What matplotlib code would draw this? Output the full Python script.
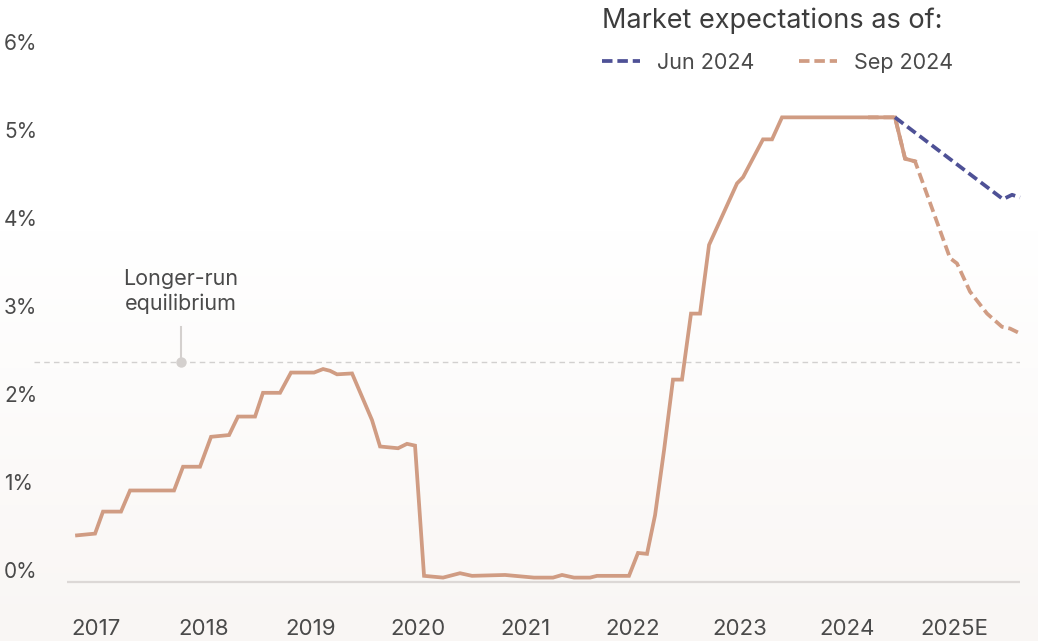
import numpy as np
import matplotlib
matplotlib.use("Agg")
import matplotlib.pyplot as plt
from matplotlib.lines import Line2D

plt.rcParams['font.family'] = ['Inter', 'DejaVu Sans']

# Effective fed funds rate (decimal years, %)
actual_t = [2016.823, 2016.991, 2017.065, 2017.233, 2017.317, 2017.727, 2017.811, 2017.969,
            2018.072, 2018.240, 2018.323, 2018.482, 2018.556, 2018.715, 2018.817, 2019.032,
            2019.116, 2019.181, 2019.246, 2019.386, 2019.572, 2019.647, 2019.815, 2019.898,
            2019.973, 2020.057, 2020.234, 2020.392, 2020.504, 2020.812, 2021.082, 2021.259,
            2021.343, 2021.455, 2021.604, 2021.669, 2021.967, 2022.051, 2022.135, 2022.210,
            2022.294, 2022.377, 2022.461, 2022.545, 2022.629, 2022.713, 2022.974, 2023.030,
            2023.216, 2023.300, 2023.393, 2024.446, 2024.540, 2024.633]
actual_v = [0.53, 0.55, 0.80, 0.80, 1.04, 1.04, 1.31, 1.31,
            1.65, 1.67, 1.88, 1.88, 2.15, 2.15, 2.38, 2.38,
            2.42, 2.40, 2.36, 2.37, 1.84, 1.54, 1.52, 1.57,
            1.55, 0.07, 0.05, 0.10, 0.07, 0.08, 0.05, 0.05,
            0.08, 0.05, 0.05, 0.07, 0.07, 0.33, 0.32, 0.76,
            1.50, 2.30, 2.30, 3.05, 3.05, 3.83, 4.53, 4.60,
            5.03, 5.03, 5.28, 5.28, 4.81, 4.78]

# market expectations
jun_t = [2024.446, 2024.987, 2025.453, 2025.537, 2025.611]
jun_v = [5.28, 4.78, 4.35, 4.40, 4.37]
sep_t = [2024.195, 2024.446, 2024.540, 2024.633, 2024.959, 2025.024, 2025.145,
         2025.304, 2025.443, 2025.518, 2025.602]
sep_v = [5.28, 5.28, 4.81, 4.78, 3.68, 3.62, 3.30, 3.05, 2.90, 2.88, 2.83]

longer_run = 2.5
years = [2017, 2018, 2019, 2020, 2021, 2022, 2023, 2024, 2025]
year_labels = ["2017", "2018", "2019", "2020", "2021", "2022", "2023", "2024", "2025E"]
y_ticks = [0, 1, 2, 3, 4, 5, 6]
y_labels = ["0%", "1%", "2%", "3%", "4%", "5%", "6%"]

ORANGE = "#d09c83"
BLUE = "#4e5196"
TEXT = "#4a4a4a"
GREY = "#d4d0ce"
DASH = (0, (2.8, 1.3))
LW = 2.7

W, H = 1038, 641
fig = plt.figure(figsize=(W / 100, H / 100), dpi=100)

# background gradient (white on top, warm grey at the bottom)
bg = fig.add_axes([0, 0, 1, 1], zorder=-10)
rows = np.arange(H)
frac = np.clip((rows - 230) / (H - 230), 0, 1)[:, None]
top = np.array([1.0, 1.0, 1.0])
bot = np.array([0xf9, 0xf6, 0xf4]) / 255
img = top + (bot - top) * frac[..., None]
img = np.repeat(img, 2, axis=1)
bg.imshow(img, aspect="auto", extent=[0, 1, 0, 1], origin="upper")
bg.axis("off")

# axes placed in pixels
left_px, right_px, bot_px, top_px = 34, 1020, 600, 30
ax = fig.add_axes([left_px / W, (H - bot_px) / H, (right_px - left_px) / W, (bot_px - top_px) / H])
ax.set_facecolor("none")
ax.set_xlim(2016.422, 2025.611)
ax.set_ylim(-0.2045, 6.2727)

# baseline and longer-run line
ax.hlines(0, 2016.73, 2025.611, color="#dcd8d6", lw=1.6, zorder=1)
ax.hlines(longer_run, 2016.422, 2025.611, color="#d2d0cf", lw=1.0,
          linestyles=(0, (4, 3)), zorder=1)

# series
ax.plot(actual_t, actual_v, color=ORANGE, lw=LW, solid_joinstyle="miter",
        clip_on=False, zorder=3)
ax.plot(sep_t, sep_v, color=ORANGE, lw=LW, ls=DASH, clip_on=False, zorder=4)
ax.plot(jun_t, jun_v, color=BLUE, lw=LW, ls=DASH, clip_on=False, zorder=4)

# longer-run annotation
ann_t = 2017.792
ax.plot([ann_t, ann_t], [longer_run, 2.90], color=GREY, lw=1.5, zorder=2)
ax.plot([ann_t], [longer_run], marker="o", ms=7.5, color=GREY, mec="none", zorder=2)
ax.text(ann_t, 3.30, "Longer-run\nequilibrium", ha="center", va="center",
        fontsize=15.5, color=TEXT, linespacing=1.3)

# ticks
ax.set_xticks(years)
ax.set_xticklabels(year_labels, fontsize=16, color=TEXT)
ax.set_yticks(y_ticks)
ax.set_yticklabels(y_labels, fontsize=15, color=TEXT, ha="left", va="bottom")
ax.tick_params(axis="x", length=0, pad=14)
ax.tick_params(axis="y", length=0, pad=21.6)
for s in ax.spines.values():
    s.set_visible(False)

# legend
fig.text(602 / W, 1 - 28 / H, "Market expectations as of:", fontsize=19.5,
         color="#3d3d3d", ha="left", va="baseline")
handles = [Line2D([], [], color=BLUE, lw=LW, ls=DASH),
           Line2D([], [], color=ORANGE, lw=LW, ls=DASH)]
leg = fig.legend(handles, ["Jun 2024", "Sep 2024"],
                 loc="center left", bbox_to_anchor=(602 / W, 1 - 63 / H), ncol=2,
                 frameon=False, fontsize=15.5, borderpad=0, borderaxespad=0,
                 handlelength=1.75, handletextpad=0.8, columnspacing=2.1)
for t in leg.get_texts():
    t.set_color(TEXT)

fig.savefig("out.png", dpi=100)
